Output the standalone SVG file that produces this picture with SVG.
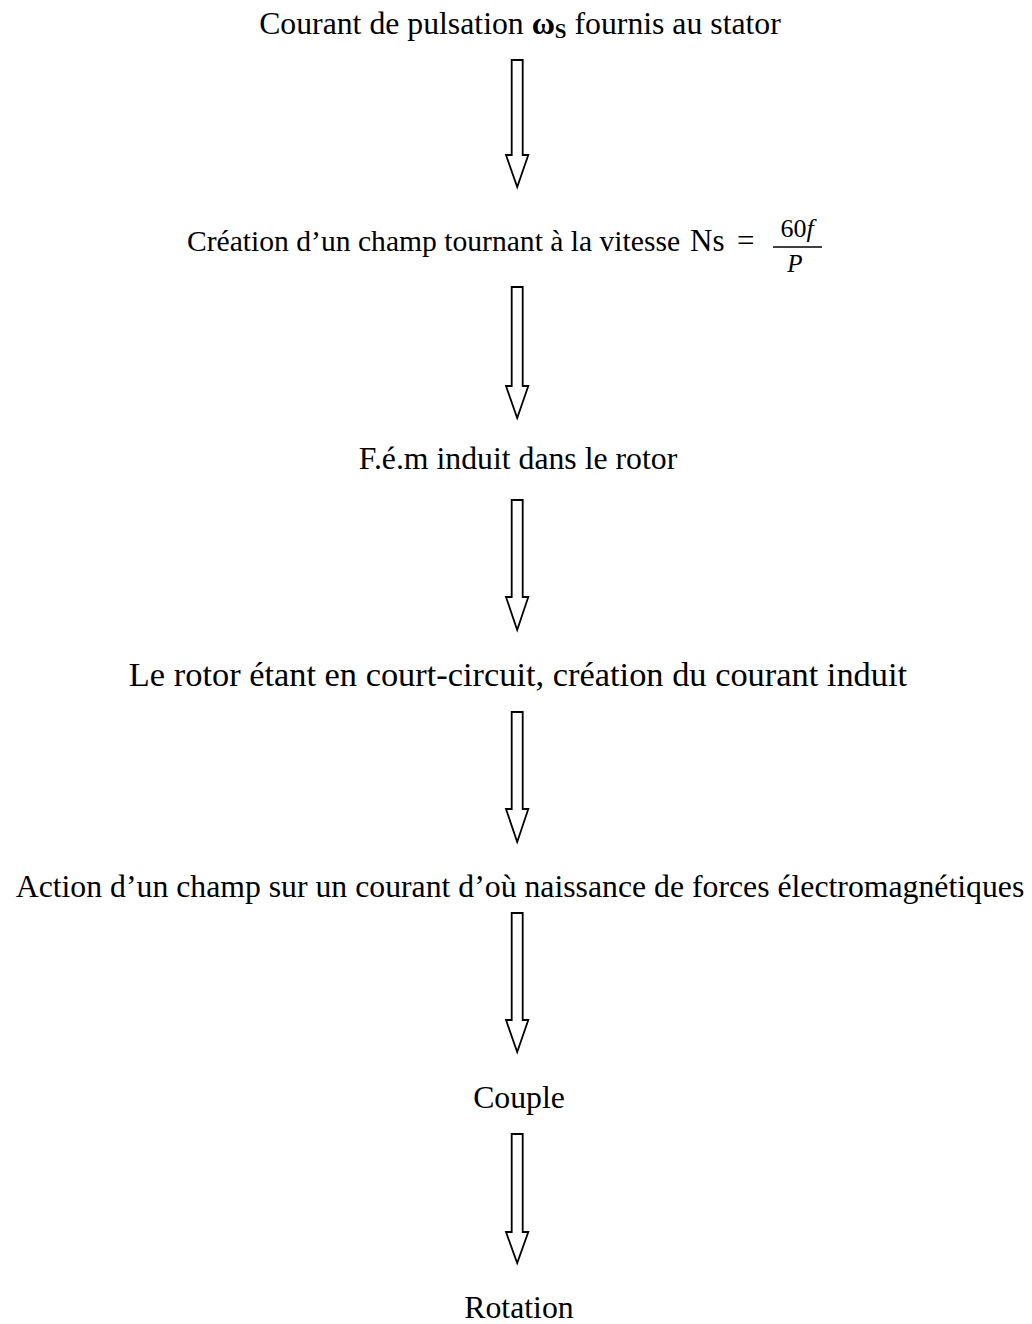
<svg xmlns="http://www.w3.org/2000/svg" width="1032" height="1324" viewBox="0 0 1032 1324">
<style>
.t{font-family:"Liberation Serif","Times New Roman",serif;font-size:31.75px;fill:#000}
.m{font-family:"Liberation Serif","Times New Roman",serif;fill:#000}
.arr{fill:#fff;stroke:#000;stroke-width:1.8;stroke-linejoin:miter}
</style>
<rect width="1032" height="1324" fill="#fff"/>
<g id="n1"><text class="t" x="520" y="34" text-anchor="middle">Courant de pulsation <tspan font-weight="bold">ω</tspan><tspan font-weight="bold" font-size="21" dy="4">S</tspan><tspan dy="-4"> fournis au stator</tspan></text></g>
<g id="n2"><text class="t" x="187" y="251" style="font-size:29.6px">Création d’un champ tournant à la vitesse <tspan x="690" style="font-size:31px">Ns</tspan> <tspan x="737" style="font-size:31px">=</tspan></text>
<text class="m" x="797" y="237" font-size="26" text-anchor="middle">60<tspan font-style="italic">f</tspan></text>
<line x1="773" y1="247" x2="822" y2="247" stroke="#000" stroke-width="1.5"/>
<text class="m" x="795" y="272" font-size="25" font-style="italic" text-anchor="middle">P</text></g>
<g id="n3"><text class="t" x="518" y="469" text-anchor="middle">F.é.m induit dans le rotor</text></g>
<g id="n4"><text class="t" x="518" y="686" style="font-size:34.4px" text-anchor="middle">Le rotor étant en court-circuit, création du courant induit</text></g>
<g id="n5"><text class="t" x="520" y="897" text-anchor="middle">Action d’un champ sur un courant d’où naissance de forces électromagnétiques</text></g>
<g id="n6"><text class="t" x="519" y="1108" text-anchor="middle">Couple</text></g>
<g id="n7"><text class="t" x="519" y="1318" text-anchor="middle">Rotation</text></g>
<g id="connectors">
<path class="arr" d="M511.7,60 H522.7 V155 H528.3 L517.2,187 L506,155 H511.7 Z"/>
<path class="arr" d="M511.7,287 H522.7 V386 H528.3 L517.2,418 L506,386 H511.7 Z"/>
<path class="arr" d="M511.7,500 H522.7 V597 H528.3 L517.2,630 L506,597 H511.7 Z"/>
<path class="arr" d="M511.7,712 H522.7 V809 H528.3 L517.2,842 L506,809 H511.7 Z"/>
<path class="arr" d="M511.7,913 H522.7 V1020 H528.3 L517.2,1052 L506,1020 H511.7 Z"/>
<path class="arr" d="M511.7,1134 H522.7 V1232 H528.3 L517.2,1263 L506,1232 H511.7 Z"/>
</g>
</svg>
